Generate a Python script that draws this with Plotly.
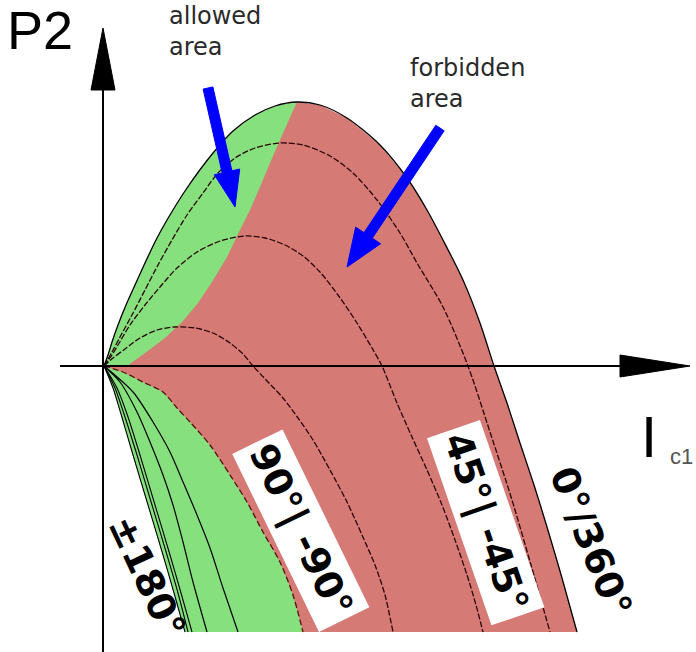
import numpy as np
import plotly.graph_objects as go

# Operating-limit curves of P2 versus I_c1, one per phase angle.
# Coordinates are in the chart's own units (origin at the axis crossing).

# 0° / 360° curve (outer limit)
c0_x = [0, 4, 8, 14, 22, 31, 41, 52, 63, 83, 109, 129, 151, 171, 193, 216, 243, 276,
        303, 323, 339, 359, 376, 390, 403, 416, 430, 443, 458, 473]
c0_y = [0, 11, 24, 41, 61, 81, 103, 126, 146, 178, 213, 235, 251, 260, 264, 261, 248,
        221, 188, 156, 126, 86, 43, 0, -37, -77, -119, -161, -212, -266]
C0_PEAK = 14  # index of the apex of the outer curve

# 45° / -45° family
c1_x = [0, 8, 16, 28, 41, 54, 68, 83, 99, 114, 131, 151, 176, 199, 226, 249, 273, 296,
        313, 339, 364, 386, 408, 427, 446]
c1_y = [0, 14, 29, 51, 76, 101, 126, 151, 173, 193, 208, 218, 223, 221, 210, 193, 166,
        133, 103, 59, 0, -66, -134, -199, -266]

c2_x = [0, 6, 14, 26, 41, 56, 73, 93, 116, 141, 161, 181, 199, 216, 234, 253, 268, 278,
        293, 308, 323, 338, 351, 363, 372, 379]
c2_y = [0, 8, 21, 41, 61, 79, 98, 114, 125, 130, 128, 121, 110, 94, 71, 43, 18, 0, -37,
        -71, -104, -139, -174, -209, -239, -266]

# 90° / -90° curve
c3_x = [0, 9, 21, 36, 53, 71, 91, 109, 126, 139, 149, 164, 179, 194, 209, 226, 243, 258,
        271, 281, 289]
c3_y = [0, 8, 17, 28, 36, 39, 38, 33, 23, 12, 0, -16, -32, -52, -74, -104, -136, -169,
        -199, -229, -266]

# ±180° bundle (inner limit) and the curves next to it
l1_x = [0, 9, 17, 29, 44, 59, 70, 81]
l1_y = [0, -22, -48, -89, -139, -189, -227, -266]
l1b_x = [0, 11, 20, 33, 48, 63, 74, 84]
l1c_x = [0, 13, 23, 36, 51, 66, 77, 88]

l3_x = [0, 16, 33, 46, 59, 69, 79, 89, 103]
l3_y = [0, -16, -46, -76, -109, -139, -176, -216, -266]

l4_x = [0, 29, 49, 66, 79, 93, 106, 119, 134]
l4_y = [0, -26, -56, -86, -116, -149, -182, -222, -266]

# border between allowed and forbidden operation, lower half
b_x = [0, 19, 39, 59, 73, 86, 106, 126, 143, 159, 176, 189, 199]
b_y = [0, -6, -16, -26, -42, -56, -79, -109, -136, -166, -196, -229, -266]

# border between allowed and forbidden operation, upper half
g_x = [193, 184, 176, 166, 156, 146, 136, 123, 108, 94, 79, 61, 41, 23]
g_y = [264, 244, 226, 203, 179, 156, 136, 109, 84, 63, 45, 28, 13, 0]

curve_labels = ["90°| -90°", "45°| -45°", "0°/360°", "±180°"]
label_pos = [(197, -164), (382, -156), (487, -176), (43, -211)]
label_angle = [64, 71, 68, 65]
label_boxed = [True, True, False, False]

RED = "rgb(214,122,118)"
GREEN = "rgb(134,224,126)"
BLUE = "#0000FF"

fig = go.Figure()

# forbidden area: everything between the outer and the ±180° limit
fig.add_trace(go.Scatter(
    x=c0_x + l1_x[::-1], y=c0_y + l1_y[::-1],
    fill="toself", fillcolor=RED, mode="none", hoverinfo="skip"))

# allowed area, upper part
fig.add_trace(go.Scatter(
    x=c0_x[:C0_PEAK + 1] + g_x[1:] + [0], y=c0_y[:C0_PEAK + 1] + g_y[1:] + [0],
    fill="toself", fillcolor=GREEN, mode="none", hoverinfo="skip"))

# allowed area, lower part
fig.add_trace(go.Scatter(
    x=l1_x + b_x[::-1], y=l1_y + b_y[::-1],
    fill="toself", fillcolor=GREEN, mode="none", hoverinfo="skip"))

line_style = dict(shape="spline", smoothing=0.8)


def curve(xs, ys, color, width, dash="solid"):
    fig.add_trace(go.Scatter(x=xs, y=ys, mode="lines", hoverinfo="skip",
                             line=dict(color=color, width=width, dash=dash, **line_style)))


DARK = "#2a0606"
for xs, ys in [(c1_x, c1_y), (c2_x, c2_y), (c3_x, c3_y)]:
    curve(xs, ys, DARK, 1.3, "6px,2px")
curve(b_x, b_y, "#5a0e0e", 1.3, "6px,3px")
for xs in [l1_x, l1b_x, l1c_x]:
    curve(xs, l1_y, "black", 1.1)
curve(l3_x, l3_y, "black", 1.2)
curve(l4_x, l4_y, "black", 1.2)
curve(c0_x, c0_y, "black", 1.3)


def path(points):
    return "M " + " L ".join(f"{px:.2f},{py:.2f}" for px, py in points) + " Z"


def arrow_polygon(start, tip, shaft, head_len, head_w):
    s = np.array(start, float)
    t = np.array(tip, float)
    d = (t - s) / np.linalg.norm(t - s)
    n = np.array([-d[1], d[0]])
    base = t - d * head_len
    pts = [s + n * shaft / 2, base + n * shaft / 2, base + n * head_w / 2, t,
           base - n * head_w / 2, base - n * shaft / 2, s - n * shaft / 2]
    return path(pts)


shapes = []
# coordinate axes with arrow heads
shapes.append(dict(type="line", xref="x", yref="y", x0=-1, y0=-290, x1=-1, y1=280,
                   line=dict(color="black", width=2)))
shapes.append(dict(type="path", xref="x", yref="y",
                   path=path([(-1, 338), (-13, 276), (11, 276)]),
                   fillcolor="black", line=dict(color="black", width=1)))
shapes.append(dict(type="line", xref="x", yref="y", x0=-44, y0=0, x1=520, y1=0,
                   line=dict(color="black", width=2)))
shapes.append(dict(type="path", xref="x", yref="y",
                   path=path([(586, 0), (516, 11), (516, -11)]),
                   fillcolor="black", line=dict(color="black", width=1)))

# blue pointers to the two areas
shapes.append(dict(type="path", xref="x", yref="y",
                   path=arrow_polygon((104, 278), (131, 159), 10, 36, 26),
                   fillcolor=BLUE, line=dict(color=BLUE, width=1)))
shapes.append(dict(type="path", xref="x", yref="y",
                   path=arrow_polygon((336, 238), (243, 99), 10, 38, 30),
                   fillcolor=BLUE, line=dict(color=BLUE, width=1)))

annotations = [
    dict(x=-64, y=336, text="P2", showarrow=False, xanchor="center", yanchor="middle",
         font=dict(family="Liberation Sans", size=54, color="black")),
    dict(x=545, y=-70, text="I", showarrow=False, xanchor="center", yanchor="middle",
         font=dict(family="Liberation Sans", size=58, color="black")),
    dict(x=577, y=-90, text="c1", showarrow=False, xanchor="center", yanchor="middle",
         font=dict(family="Liberation Sans", size=22, color="#555555")),
    dict(x=63, y=366, text="allowed<br>area", showarrow=False, xanchor="left",
         yanchor="top", align="left",
         font=dict(family="DejaVu Sans", size=24, color="#2a2a2a")),
    dict(x=304, y=314, text="forbidden<br>area", showarrow=False, xanchor="left",
         yanchor="top", align="left",
         font=dict(family="DejaVu Sans", size=24, color="#2a2a2a")),
]
for txt, (lx, ly), ang, boxed in zip(curve_labels, label_pos, label_angle, label_boxed):
    annotations.append(dict(
        x=lx, y=ly, text=txt, showarrow=False, textangle=ang,
        xanchor="center", yanchor="middle",
        bgcolor="white" if boxed else "rgba(0,0,0,0)", borderpad=5,
        font=dict(family="DejaVu Sans", size=38, color="black", weight="bold")))

fig.update_layout(
    width=696, height=652,
    margin=dict(l=0, r=0, t=0, b=0),
    paper_bgcolor="white", plot_bgcolor="white",
    showlegend=False,
    xaxis=dict(range=[-104, 592], visible=False, fixedrange=True),
    yaxis=dict(range=[-286, 366], visible=False, fixedrange=True),
    shapes=shapes,
    annotations=annotations,
)

fig.write_html("out.html")
